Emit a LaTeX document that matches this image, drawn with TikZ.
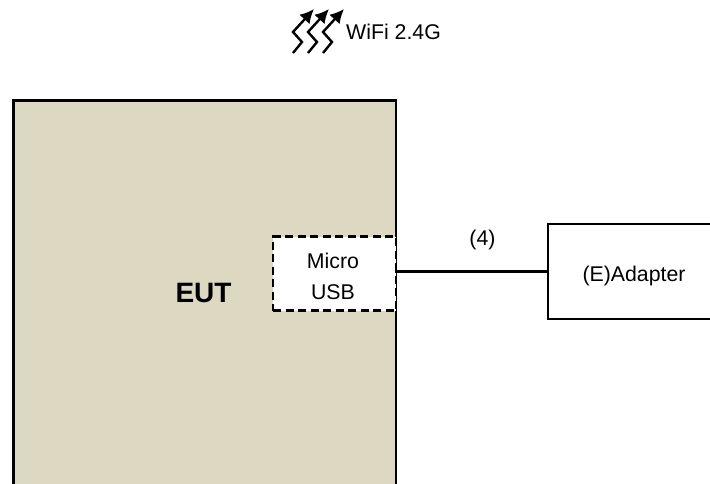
\documentclass[tikz,border=0pt]{standalone}
\usepackage{fontspec}
\setmainfont{Liberation Sans}
\usetikzlibrary{arrows.meta}
\definecolor{eutfill}{RGB}{221,216,194}
\tikzset{x=1pt,y=-1pt,
 box/.style={draw=black,line width=2.6pt,inner sep=0pt,anchor=north west},
 lbl/.style={inner sep=0pt,font=\fontsize{21.3}{24}\selectfont,align=center},
 wave/.style={line width=2.4pt,miter limit=10,-{Latex[length=14pt,width=14pt]}}}
\begin{document}
\begin{tikzpicture}
\useasboundingbox (0,0) rectangle (710,484);
\node[box,fill=eutfill,minimum width=382.5pt,minimum height=385.8pt] (eut) at (12.3,99) {};
\node[box,fill=white,dash pattern=on 8pt off 4.5pt,minimum width=123pt,minimum height=74pt] (usb) at (271.7,235.2) {};
\node[box,fill=white,minimum width=175pt,minimum height=95pt] (ad) at (546.7,222.8) {};
\node[font=\fontsize{28}{32}\selectfont\bfseries,inner sep=0pt] (eutl) at (203.5,293) {EUT};
\node[lbl] (m) at (333,260.5) {Micro};
\node[lbl] (u) at (333,292.5) {USB};
\node[lbl] (a) at (634,276) {(E)Adapter};
\node[lbl] (four) at (482.5,240) {(4)};
\node[lbl,anchor=west] (w) at (346,32) {WiFi 2.4G};
\coordinate (usbr) at (395,271.5);
\draw[line width=2.6pt] (usbr) -- (ad.west |- usbr);
\foreach \d in {0,15,30}{
 \draw[wave] (293+\d,53) -- (302+\d,42) -- (293+\d,32) -- (314+\d,9);
}
\end{tikzpicture}
\end{document}
